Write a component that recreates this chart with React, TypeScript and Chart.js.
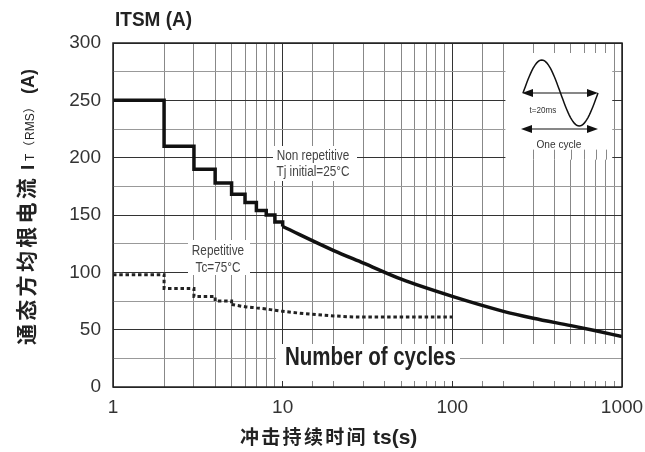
import React, { useEffect, useRef } from 'react';
import { Chart, registerables } from 'chart.js';
Chart.register(...registerables);

// Non repetitive (Tj initial = 25°C): stepped part and smooth part
const nonRepStepCycles = [1, 2, 3, 4, 5, 6, 7, 8, 9, 10];
const nonRepStepCurrent = [250, 210, 190, 178, 168, 161, 154, 150, 144, 140];
const nonRepCurveCycles = [10, 20, 30, 50, 100, 200, 300, 500, 700, 1000];
const nonRepCurveCurrent = [140, 119, 108, 94, 79, 66, 60, 53.5, 49, 44];
// Repetitive (Tc = 75°C)
const repStepCycles = [1, 2, 3, 4, 5];
const repStepCurrent = [98, 86, 79, 75, 72];
const repCurveCycles = [5, 6, 7, 8, 10, 20, 30, 50, 100];
const repCurveCurrent = [72, 70, 69, 68, 66, 62, 61, 61, 61];
// axes
const yMin = 0;
const yMax = 300;
const yGridStep = 25;
const yLabelStep = 50;
const xMin = 1;
const xMax = 1000;

const LATIN = '"Liberation Sans", Arial, sans-serif';
const CJK = '"Noto Sans CJK SC", sans-serif';

const pts = (xs: number[], ys: number[]) => xs.map((v, i) => ({ x: v, y: ys[i] }));
const isDecade = (v: number) => Math.abs(Math.log10(v) - Math.round(Math.log10(v))) < 1e-9;

function narrowText(ctx: CanvasRenderingContext2D, text: string, x: number, y: number, font: string, color: string, sx: number, align: CanvasTextAlign) {
  ctx.save();
  ctx.translate(x, y);
  ctx.scale(sx, 1);
  ctx.font = font;
  ctx.fillStyle = color;
  ctx.textAlign = align;
  ctx.textBaseline = 'alphabetic';
  ctx.fillText(text, 0, 0);
  ctx.restore();
}

function arrow(ctx: CanvasRenderingContext2D, x0: number, x1: number, y: number) {
  ctx.beginPath();
  ctx.moveTo(x0 + 6, y);
  ctx.lineTo(x1 - 6, y);
  ctx.stroke();
  ctx.beginPath();
  ctx.moveTo(x0, y);
  ctx.lineTo(x0 + 11, y - 4);
  ctx.lineTo(x0 + 11, y + 4);
  ctx.closePath();
  ctx.fill();
  ctx.beginPath();
  ctx.moveTo(x1, y);
  ctx.lineTo(x1 - 11, y - 4);
  ctx.lineTo(x1 - 11, y + 4);
  ctx.closePath();
  ctx.fill();
}

const decor = {
  id: 'decor',
  beforeDatasetsDraw(chart: any) {
    const { ctx, chartArea: a, scales } = chart;
    const x = scales.x;
    const y = scales.y;
    ctx.save();
    ctx.fillStyle = '#fff';
    // inset box
    const bx0 = x.getPixelForValue(200) + 2;
    const bx1 = x.getPixelForValue(900) - 2;
    const by0 = a.top + 10;
    const by1 = y.getPixelForValue(200) + 2;
    ctx.fillRect(bx0, by0, bx1 - bx0, by1 - by0);
    // redraw vertical line pieces below the inset text
    ctx.lineWidth = 1;
    x.ticks.forEach((t: any) => {
      if (t.value > 200 && t.value < 900) {
        const px = Math.round(x.getPixelForValue(t.value)) + 0.5;
        ctx.strokeStyle = '#888';
        ctx.beginPath();
        ctx.moveTo(px, y.getPixelForValue(207));
        ctx.lineTo(px, by1);
        ctx.stroke();
      }
    });
    // label boxes
    ctx.fillStyle = '#fff';
    ctx.fillRect(273, 146, 84, 35);
    ctx.fillRect(188, 240, 62, 35);
    // Number of cycles band
    ctx.fillRect(276, 344, a.right - 1 - 276, 37);
    const y25 = Math.round(y.getPixelForValue(25)) + 0.5;
    ctx.strokeStyle = '#999';
    ctx.beginPath();
    ctx.moveTo(460, y25);
    ctx.lineTo(a.right, y25);
    ctx.stroke();

    // texts
    narrowText(ctx, 'Non repetitive', 313, 160, `14px ${LATIN}`, '#444', 0.84, 'center');
    narrowText(ctx, 'Tj initial=25°C', 313, 176, `14px ${LATIN}`, '#444', 0.84, 'center');
    narrowText(ctx, 'Repetitive', 218, 255, `14px ${LATIN}`, '#444', 0.84, 'center');
    narrowText(ctx, 'Tc=75°C', 218, 272, `14px ${LATIN}`, '#444', 0.84, 'center');
    narrowText(ctx, 'Number of cycles', 285, 365, `bold 25px ${LATIN}`, '#222', 0.82, 'left');

    // inset sine wave
    const s0 = a.right - 99;
    const s1 = a.right - 24;
    const cy = a.top + 50;
    const amp = 33;
    ctx.strokeStyle = '#111';
    ctx.fillStyle = '#111';
    ctx.lineWidth = 1.5;
    ctx.beginPath();
    for (let i = 0; i <= 60; i++) {
      const t = i / 60;
      const px = s0 + (s1 - s0) * t;
      const py = cy - amp * Math.sin(2 * Math.PI * t);
      if (i === 0) ctx.moveTo(px, py); else ctx.lineTo(px, py);
    }
    ctx.stroke();
    ctx.lineWidth = 1.2;
    arrow(ctx, s0 - 1, s1, cy);
    arrow(ctx, s0 - 2, s1, cy + 36);
    narrowText(ctx, 't=20ms', s0 + 20, a.top + 70, `9px ${LATIN}`, '#333', 0.9, 'center');
    narrowText(ctx, 'One cycle', s0 + 36, a.top + 105, `11px ${LATIN}`, '#333', 0.92, 'center');
    ctx.restore();
  },
  afterDraw(chart: any) {
    const { ctx, chartArea: a } = chart;
    ctx.save();
    // frame
    ctx.strokeStyle = '#222';
    ctx.lineWidth = 1.5;
    ctx.strokeRect(a.left, a.top, a.right - a.left, a.bottom - a.top);
    // top title
    narrowText(ctx, 'ITSM (A)', 115, 26, `bold 20px ${LATIN}`, '#222', 0.95, 'left');
    // x title
    ctx.fillStyle = '#222';
    ctx.textBaseline = 'alphabetic';
    ctx.textAlign = 'left';
    ctx.font = `bold 19px ${CJK}`;
    const xt = '冲击持续时间';
    for (let i = 0; i < xt.length; i++) ctx.fillText(xt[i], 240 + i * 21.3, 444);
    ctx.font = `bold 21px ${LATIN}`;
    ctx.fillText('ts(s)', 373, 444);
    // y title
    ctx.translate(26, 345);
    ctx.rotate(-Math.PI / 2);
    ctx.font = `bold 21px ${CJK}`;
    const yt = '通态方均根电流';
    for (let i = 0; i < yt.length; i++) ctx.fillText(yt[i], i * 24.3, 8);
    ctx.font = `bold 19px ${LATIN}`;
    ctx.fillText('I', 175, 8);
    ctx.font = `12px ${LATIN}`;
    ctx.fillText('T', 184, 8);
    ctx.font = `12px ${CJK}`;
    ctx.fillText('（', 192, 8);
    ctx.font = `12px ${LATIN}`;
    ctx.fillText('RMS', 205, 8);
    ctx.font = `12px ${CJK}`;
    ctx.fillText('）', 232, 8);
    ctx.font = `bold 18px ${LATIN}`;
    ctx.fillText('(A)', 251, 8);
    ctx.restore();
  },
};

export default function App() {
  const ref = useRef<HTMLCanvasElement>(null);
  useEffect(() => {
    const chart = new Chart(ref.current!, {
      type: 'line',
      data: {
        datasets: [
          {
            label: 'Non repetitive step',
            data: pts(nonRepStepCycles, nonRepStepCurrent),
            stepped: 'before',
            borderColor: '#111',
            borderWidth: 3.5,
            pointRadius: 0,
            fill: false,
          },
          {
            label: 'Non repetitive',
            data: pts(nonRepCurveCycles, nonRepCurveCurrent),
            cubicInterpolationMode: 'monotone',
            borderColor: '#111',
            borderWidth: 3.5,
            pointRadius: 0,
            fill: false,
          },
          {
            label: 'Repetitive step',
            data: pts(repStepCycles, repStepCurrent),
            stepped: 'before',
            borderColor: '#222',
            borderWidth: 3,
            borderDash: [3.5, 2.75],
            pointRadius: 0,
            fill: false,
          },
          {
            label: 'Repetitive',
            data: pts(repCurveCycles, repCurveCurrent),
            cubicInterpolationMode: 'monotone',
            borderColor: '#222',
            borderWidth: 3,
            borderDash: [3.5, 2.75],
            pointRadius: 0,
            fill: false,
          },
        ],
      },
      options: {
        responsive: false,
        animation: false,
        layout: { padding: { top: 43, right: 23, left: 0, bottom: 0 } },
        plugins: { legend: { display: false }, tooltip: { enabled: false }, title: { display: false } },
        scales: {
          x: {
            type: 'logarithmic',
            min: xMin,
            max: xMax,
            afterFit: (s: any) => { s.height = 65; s.paddingLeft = 0; s.paddingRight = 0; },
            border: { display: false },
            grid: {
              drawTicks: false,
              lineWidth: 1,
              color: (c: any) => (isDecade(c.tick.value) ? '#333' : '#888'),
            },
            ticks: {
              autoSkip: false,
              maxRotation: 0,
              padding: 9,
              color: '#333',
              font: { family: LATIN, size: 19 },
              callback: (v: any) => (isDecade(Number(v)) ? String(Number(v)) : ''),
            },
          },
          y: {
            type: 'linear',
            min: yMin,
            max: yMax,
            afterFit: (s: any) => { s.width = 113; s.paddingTop = 0; s.paddingBottom = 0; },
            border: { display: false },
            grid: {
              drawTicks: false,
              lineWidth: 1,
              color: (c: any) => (c.tick.value % yLabelStep === 0 ? '#333' : '#999'),
            },
            ticks: {
              stepSize: yGridStep,
              padding: 12,
              color: '#333',
              font: { family: LATIN, size: 19 },
              callback: (v: any) => (Number(v) % yLabelStep === 0 ? String(v) : ''),
            },
          },
        },
      },
      plugins: [decor],
    } as any);
    return () => chart.destroy();
  }, []);
  return (
    <div style={{ position: 'fixed', left: 0, top: 0, width: 645, height: 452, background: '#fff' }}>
      <canvas ref={ref} width={645} height={452} style={{ display: 'block', width: 645, height: 452 }} />
    </div>
  );
}
